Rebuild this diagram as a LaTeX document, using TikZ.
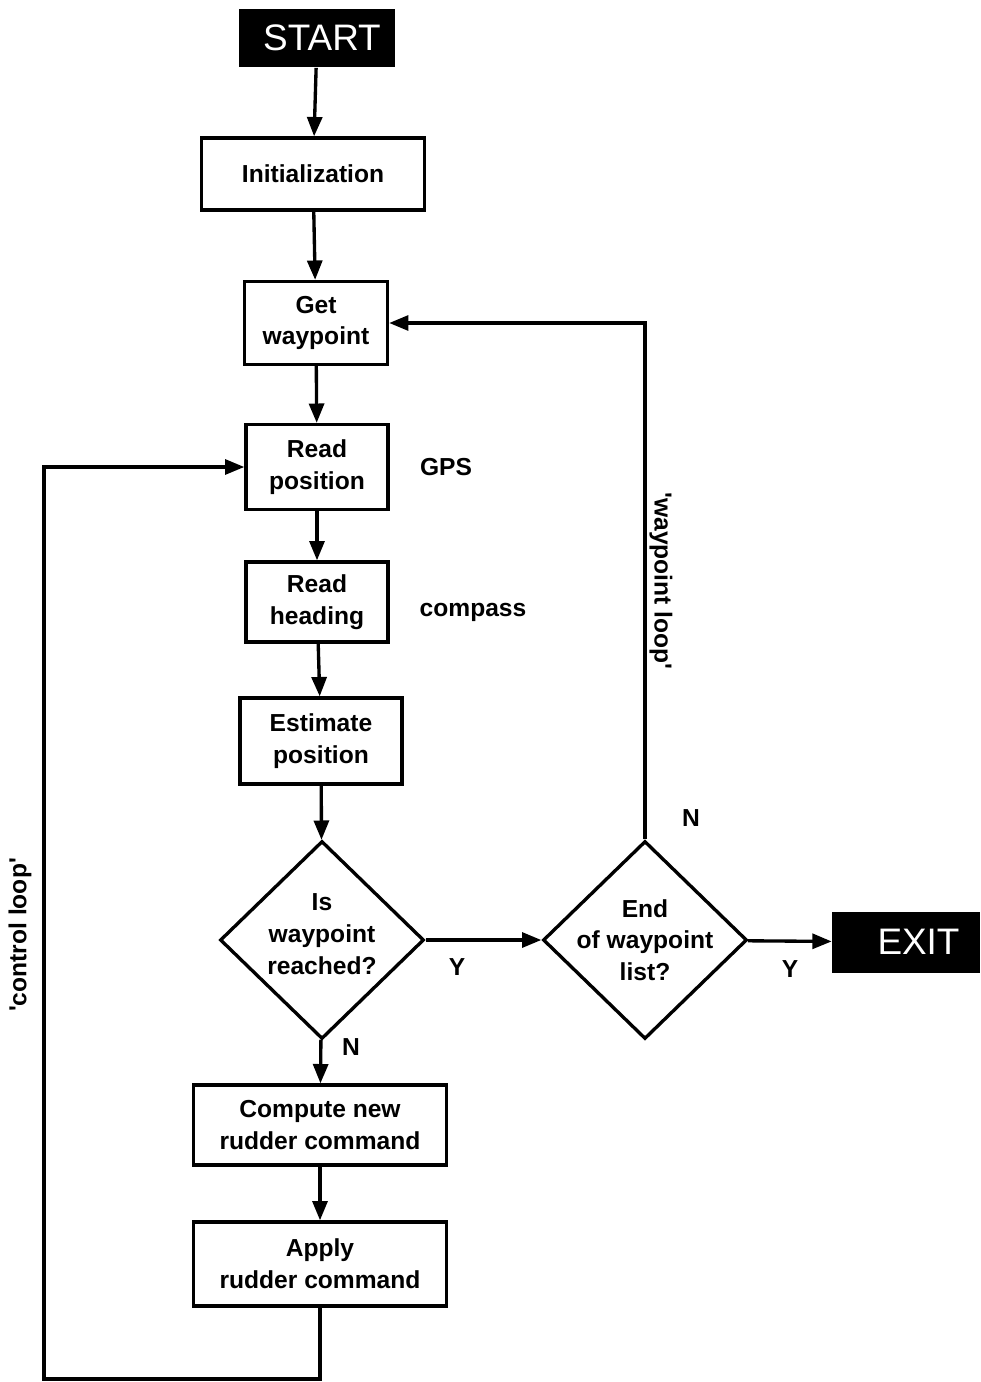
\documentclass[tikz,border=0pt]{standalone}
\usepackage{fontspec}
\newfontfamily\chartfont{Liberation Sans}
\usepackage{tikz}
\usetikzlibrary{shapes,arrows.meta,positioning}

\tikzset{
  every node/.style={font=\chartfont\fontsize{14}{18}\selectfont\bfseries},
  block/.style 2 args={draw, line width=1.9pt, align=center, inner sep=0pt,
    minimum width=#1, minimum height=#2},
  terminal/.style 2 args={fill=black, text=white, inner sep=0pt,
    minimum width=#1, minimum height=#2,
    font=\chartfont\fontsize{21}{24}\selectfont},
  decision/.style={draw, diamond, line width=1.9pt, inner sep=0pt,
    minimum width=4.08cm, minimum height=3.96cm},
  flow/.style={line width=1.9pt, -{Triangle[length=11pt,width=8.5pt]}}
}

\begin{document}
\begin{tikzpicture}[x=0.02cm, y=-0.02cm]
    \useasboundingbox (0,0) rectangle (980,1382);

    % Main column
    \node[terminal={3.12cm}{1.18cm}] (start) at (317,38) {\hspace{0.2cm}START};
    \node[block={4.46cm}{1.44cm}] (init) at (313,174) {Initialization};
    \node[block={2.86cm}{1.66cm}] (getwp) at (316,323) {Get\\waypoint};
    \node[block={2.84cm}{1.70cm}] (readpos) at (317,467) {Read\\position};
    \node[block={2.84cm}{1.60cm}] (readhdg) at (317,602) {Read\\heading};
    \node[block={3.24cm}{1.72cm}] (estpos) at (321,741) {Estimate\\position};
    \node[decision, label={[align=center, yshift=3.4pt]center:{Is\\waypoint\\reached?}}]
      (reached) at (322,940) {};
    \node[block={5.06cm}{1.60cm}] (compute) at (320,1125) {Compute new\\rudder command};
    \node[block={5.06cm}{1.68cm}] (apply) at (320,1264) {Apply\\rudder command};

    % End of list test
    \node[decision, label={[align=center]center:{End\\of waypoint\\list?}}]
      (endlist) at (645,940) {};
    \node[terminal={2.96cm}{1.22cm}] (exit) at (906,942) {\hspace{0.5cm}EXIT};

    % Sensors
    \node (gps) at (446,467) {GPS};
    \node (compass) at (473,612) {compass};

    % Flow
    \draw[flow] (start) -- (init);
    \draw[flow] (init) -- (getwp);
    \draw[flow] (getwp) -- (readpos);
    \draw[flow] (readpos) -- (readhdg);
    \draw[flow] (readhdg) -- (estpos);
    \draw[flow] (estpos) -- (reached);
    \draw[flow] (reached) -- (compute);
    \draw[flow] (compute) -- (apply);
    \draw[flow] (reached) -- (endlist);
    \draw[flow] (endlist) -- (exit);

    % Loops
    \coordinate (ctrl) at (44,1379);
    \draw[flow] (apply.south) -- (apply.south |- ctrl) -- (ctrl) |- (readpos.west);
    \draw[flow] (endlist.north) |- (getwp.east);
    \node[rotate=90] (ctrllbl) at (20,935) {'control loop'};
    \node[rotate=-90] (wplbl) at (661,581) {'waypoint loop'};

    % Answers
    \node (y1) at (457,967) {Y};
    \node (n1) at (351,1047) {N};
    \node (y2) at (790,969) {Y};
    \node (n2) at (691,818) {N};
\end{tikzpicture}
\end{document}
